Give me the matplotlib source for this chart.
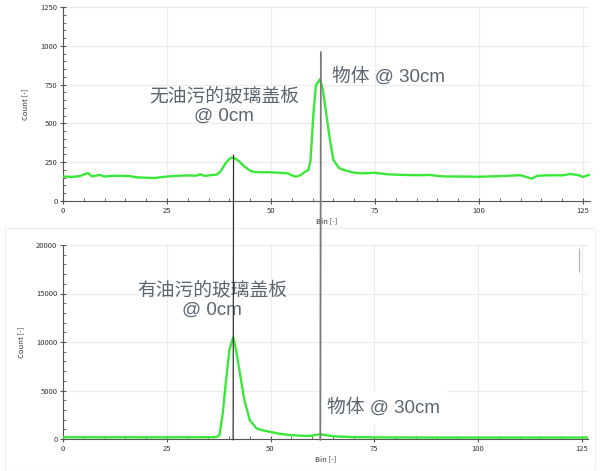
import matplotlib
matplotlib.use("Agg")
import matplotlib.pyplot as plt
import matplotlib.patches as mpatches
from matplotlib.patches import ConnectionPatch
from matplotlib.ticker import MultipleLocator

plt.rcParams['font.family'] = ['Noto Sans CJK SC', 'DejaVu Sans']
ANNOT_FONT = ['Liberation Sans', 'Noto Sans CJK SC']

# ── Data ──────────────────────────────────────────────────────────────────────
top_bin = [0, 2, 4, 6, 7, 8.8, 10, 12, 14, 16, 18, 20, 22, 24, 26, 28, 30, 32,
           33, 34, 36, 37, 38, 39, 40, 40.5, 41.5, 42.5, 43.5, 45, 46, 48, 50,
           52, 54, 55, 56, 57, 58, 59, 59.5, 60.2, 60.8, 61.8, 62.5, 63.4, 64.2,
           65, 66.4, 67.5, 69, 70, 72, 75, 78, 80, 82, 85, 88, 90, 92, 95, 98,
           100, 102, 105, 108, 110, 112.7, 114, 116, 118, 120, 122, 124, 125,
           126.5]
top_count = [158, 155, 160, 180, 158, 168, 158, 162, 162, 160, 152, 150, 148,
             155, 160, 163, 165, 163, 172, 162, 168, 170, 195, 240, 272, 280,
             272, 253, 225, 195, 187, 185, 185, 182, 178, 165, 157, 165, 185,
             200, 260, 560, 745, 785, 715, 540, 393, 264, 212, 200, 189, 182,
             178, 182, 172, 170, 168, 166, 168, 162, 158, 158, 157, 156, 158,
             160, 164, 166, 144, 162, 165, 166, 165, 174, 166, 155, 168]

bot_bin = [0, 5, 10, 15, 20, 25, 30, 35, 37, 37.7, 38.5, 39.3, 40.1, 41, 41.7,
           42.5, 43.7, 45, 46.6, 48, 49.8, 52, 54.6, 58.6, 60, 61.8, 63, 64.2,
           66, 70, 75, 80, 90, 100, 110, 120, 126.5]
bot_count = [180, 180, 175, 180, 170, 175, 180, 185, 200, 400, 2650, 6100,
             9200, 10480, 9200, 7100, 4000, 1950, 1100, 900, 750, 550, 410, 310,
             350, 480, 430, 340, 260, 200, 170, 160, 150, 150, 150, 150, 150]

# marker lines: (bin, top of line in upper-panel counts)
glass_bin, glass_top = 41, 296
object_bin, object_top = 62, 960

top_glass_label = "无油污的玻璃盖板\n@ 0cm"
bot_glass_label = "有油污的玻璃盖板\n@ 0cm"
object_label = "物体 @ 30cm"

artifact_bin, artifact_range = 124.3, (17200, 19700)

GREEN = "#3ae83a"
TEXT = "#5b6570"
AXC = "#555555"

fig = plt.figure(figsize=(6.0, 4.71), dpi=100)

# faint frame behind the lower panel
fig.add_artist(mpatches.Rectangle((5 / 600, 0.0), 590 / 600, 1 - 228 / 471,
                                  transform=fig.transFigure, facecolor="none",
                                  edgecolor="#f0f0f0", lw=0.8))

ax_top = fig.add_axes([63 / 600, 1 - 201 / 471, 527 / 600, 194 / 471])
ax_bot = fig.add_axes([63 / 600, 1 - 439 / 471, 525 / 600, 194 / 471])


def style(ax, ymax, ymajor, yminor, xmax):
    ax.set_xlim(0, xmax)
    ax.set_ylim(0, ymax)
    for s in ("top", "right"):
        ax.spines[s].set_visible(False)
    for s in ("left", "bottom"):
        ax.spines[s].set_color(AXC)
        ax.spines[s].set_linewidth(0.8)
    ax.xaxis.set_major_locator(MultipleLocator(25))
    ax.xaxis.set_minor_locator(MultipleLocator(5))
    ax.yaxis.set_major_locator(MultipleLocator(ymajor))
    ax.yaxis.set_minor_locator(MultipleLocator(yminor))
    ax.tick_params(which="major", direction="inout", length=4, width=0.8,
                   color=AXC, labelsize=5.5, labelcolor="#333333", pad=2)
    ax.tick_params(which="minor", direction="in", length=2, width=0.6, color=AXC)
    ax.grid(True, which="major", color="#ececec", lw=0.8)
    ax.set_axisbelow(True)
    ax.set_xlabel("Bin [-]", fontsize=5.5, color="#333333", labelpad=2)
    ax.set_ylabel("Count [-]", fontsize=5.5, color="#333333", labelpad=8)


style(ax_top, 1250, 250, 50, 126.7)
style(ax_bot, 20000, 5000, 1000, 126.5)

ax_top.plot(top_bin, top_count, color=GREEN, lw=1.7, zorder=3)
ax_bot.plot(bot_bin, bot_count, color=GREEN, lw=1.7, zorder=3)

# vertical markers spanning both panels
for b, ytop, col, lw in [(glass_bin, glass_top, "#333333", 0.9),
                         (object_bin, object_top, "#7a7a7a", 1.3)]:
    con = ConnectionPatch(xyA=(b, ytop), coordsA=ax_top.transData,
                          xyB=(b, -100), coordsB=ax_bot.transData,
                          color=col, lw=lw, zorder=5)
    fig.add_artist(con)

ax_bot.vlines(artifact_bin, *artifact_range, color="#b0b0b0", lw=0.8)

ax_top.text(38.7, 612, top_glass_label, ha="center", va="center", fontsize=13.5,
            color=TEXT, linespacing=1.15, zorder=4, family=ANNOT_FONT)
ax_top.text(64.7, 800, object_label, ha="left", va="center", fontsize=13.5,
            color=TEXT, zorder=4, family=ANNOT_FONT)
ax_bot.text(35.9, 14330, bot_glass_label, ha="center", va="center", fontsize=13.5,
            color=TEXT, linespacing=1.15, zorder=4, family=ANNOT_FONT)
ax_bot.text(63.6, 3200, object_label, ha="left", va="center", fontsize=13.5,
            color=TEXT, zorder=4, family=ANNOT_FONT,
            bbox=dict(boxstyle="square,pad=0.4", fc="white", ec="none"))

fig.savefig("out.png", dpi=100)
